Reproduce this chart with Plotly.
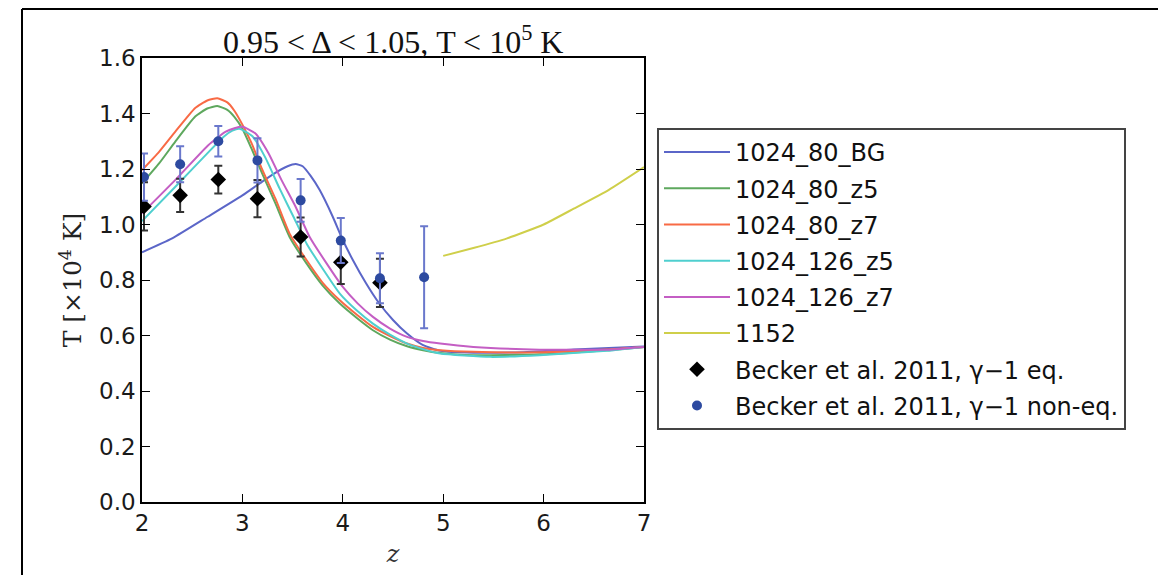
import plotly.graph_objects as go

# ---- data ----
z_bg = [2.0, 2.3, 2.65, 3.0, 3.3, 3.45, 3.53, 3.6, 3.68, 3.77, 3.9, 4.0, 4.1, 4.23, 4.36, 4.5, 4.64, 4.8, 4.97, 5.3, 5.8, 6.3, 7.0]
T_bg = [0.90, 0.95, 1.027, 1.105, 1.18, 1.21, 1.218, 1.21, 1.175, 1.124, 1.028, 0.944, 0.872, 0.789, 0.717, 0.656, 0.607, 0.565, 0.545, 0.538, 0.54, 0.55, 0.56]

z_80z5 = [2.0, 2.17, 2.33, 2.53, 2.65, 2.75, 2.85, 2.92, 3.0, 3.09, 3.19, 3.33, 3.47, 3.64, 3.8, 3.97, 4.14, 4.30, 4.47, 4.64, 4.8, 4.97, 5.3, 5.96, 6.63, 7.0]
T_80z5 = [1.148, 1.22, 1.298, 1.389, 1.418, 1.427, 1.413, 1.388, 1.345, 1.274, 1.19, 1.075, 0.955, 0.859, 0.78, 0.715, 0.663, 0.619, 0.585, 0.561, 0.547, 0.537, 0.529, 0.532, 0.547, 0.559]

z_80z7 = [2.0, 2.17, 2.33, 2.53, 2.65, 2.75, 2.85, 2.92, 3.0, 3.09, 3.19, 3.33, 3.47, 3.64, 3.8, 3.97, 4.14, 4.30, 4.47, 4.64, 4.8, 4.97, 5.3, 5.96, 6.63, 7.0]
T_80z7 = [1.196, 1.262, 1.334, 1.42, 1.447, 1.455, 1.44, 1.41, 1.36, 1.294, 1.204, 1.092, 0.967, 0.871, 0.79, 0.727, 0.675, 0.631, 0.598, 0.571, 0.555, 0.547, 0.541, 0.54, 0.55, 0.559]

z_126z5 = [2.0, 2.33, 2.66, 2.82, 2.9, 2.97, 3.1, 3.23, 3.37, 3.51, 3.64, 3.81, 3.97, 4.14, 4.30, 4.47, 4.64, 4.8, 4.97, 5.47, 5.96, 6.63, 7.0]
T_126z5 = [1.012, 1.135, 1.26, 1.318, 1.338, 1.345, 1.318, 1.24, 1.13, 1.027, 0.931, 0.835, 0.751, 0.69, 0.643, 0.603, 0.571, 0.551, 0.535, 0.523, 0.529, 0.545, 0.559]

z_126z7 = [2.0, 2.33, 2.66, 2.83, 2.92, 3.0, 3.13, 3.26, 3.39, 3.53, 3.67, 3.84, 4.0, 4.15, 4.30, 4.47, 4.64, 4.8, 4.97, 5.3, 5.96, 6.63, 7.0]
T_126z7 = [1.04, 1.16, 1.286, 1.334, 1.347, 1.352, 1.328, 1.257, 1.16, 1.064, 0.955, 0.859, 0.775, 0.715, 0.667, 0.625, 0.595, 0.58, 0.571, 0.559, 0.549, 0.549, 0.559]

z_1152 = [5.0, 5.3, 5.63, 6.0, 6.3, 6.65, 7.0]
T_1152 = [0.887, 0.915, 0.949, 1.0, 1.057, 1.125, 1.207]

z_obs = [2.02, 2.38, 2.76, 3.15, 3.58, 3.98, 4.37]
T_eq = [1.065, 1.105, 1.162, 1.093, 0.955, 0.864, 0.79]
err_eq = [0.087, 0.06, 0.05, 0.067, 0.07, 0.078, 0.087]

z_neq = [2.02, 2.38, 2.76, 3.15, 3.58, 3.98, 4.37, 4.81]
T_neq = [1.171, 1.217, 1.30, 1.231, 1.087, 0.942, 0.806, 0.81]
err_neq = [0.085, 0.065, 0.055, 0.08, 0.077, 0.081, 0.09, 0.184]

x_ticks = [2, 3, 4, 5, 6, 7]
y_ticks = [0.0, 0.2, 0.4, 0.6, 0.8, 1.0, 1.2, 1.4, 1.6]

# ---- figure ----
fig = go.Figure()
lines = [
    ("1024_80_BG", z_bg, T_bg, "#5b66c8"),
    ("1024_80_z5", z_80z5, T_80z5, "#5ea85e"),
    ("1024_80_z7", z_80z7, T_80z7, "#f86a45"),
    ("1024_126_z5", z_126z5, T_126z5, "#4fcfcf"),
    ("1024_126_z7", z_126z7, T_126z7, "#c45ec4"),
    ("1152", z_1152, T_1152, "#cfcf4a"),
]
for name, zz, tt, col in lines:
    fig.add_trace(go.Scatter(x=zz, y=tt, mode="lines", name=name, legendgroup=name,
                             line=dict(color=col, width=2, shape="spline", smoothing=0.5)))

fig.add_trace(go.Scatter(
    x=z_obs, y=T_eq, mode="markers", name="Becker et al. 2011, γ−1 eq.",
    legendgroup="eq",
    marker=dict(symbol="diamond", size=12, color="black"),
    error_y=dict(type="data", array=err_eq, visible=True, color="#333333", thickness=2, width=4)))
fig.add_trace(go.Scatter(
    x=z_neq, y=T_neq, mode="markers", name="Becker et al. 2011, γ−1 non-eq.",
    legendgroup="neq",
    marker=dict(symbol="circle", size=10, color="#2d4aa0"),
    error_y=dict(type="data", array=err_neq, visible=True, color="#6a78cc", thickness=2, width=4)))

# page body adds an 8px offset; target screen pixel coords are shifted by OFF
OFF = 8
W, H = 1166 - OFF, 575 - OFF
L, R, T, B = 142 - OFF, 644 - OFF, 58 - OFF, 502 - OFF
px = lambda x: (x - OFF - L) / (R - L)
py = lambda y: (B - (y - OFF)) / (B - T)

axis_common = dict(showline=True, linecolor="black", linewidth=1.5, mirror="allticks",
                   ticks="inside", ticklen=8, tickwidth=1.2, tickcolor="black",
                   showgrid=False, zeroline=False,
                   tickfont=dict(family="DejaVu Sans", size=23, color="#1a1a1a"))

fig.update_layout(
    width=W, height=H,
    margin=dict(l=L, r=W - R, t=T, b=H - B),
    paper_bgcolor="white", plot_bgcolor="white",
    showlegend=True,
    legend=dict(x=px(657), y=py(128), xanchor="left", yanchor="top",
                bgcolor="white", bordercolor="#444444", borderwidth=2,
                font=dict(family="DejaVu Sans", size=24, color="#111111"),
                tracegroupgap=2, itemwidth=66),
    xaxis=dict(range=[2, 7], tickvals=x_ticks, ticktext=[str(v) for v in x_ticks],
               title=dict(text="<i>z</i>", font=dict(family="DejaVu Serif", size=24, color="#333"), standoff=10),
               **axis_common),
    yaxis=dict(range=[0, 1.6], tickvals=y_ticks, ticktext=["%.1f" % v for v in y_ticks],
               title=dict(text="T [×10<sup>4</sup> K]", font=dict(family="DejaVu Serif", size=25, color="#222"), standoff=10),
               **axis_common),
    annotations=[dict(text="0.95 < Δ < 1.05, T < 10<sup>5</sup> K", xref="paper", yref="paper",
                      x=0.5, y=py(40), xanchor="center", yanchor="middle", showarrow=False,
                      font=dict(family="Liberation Serif", size=32, color="#111"))],
    shapes=[
        dict(type="line", xref="paper", yref="paper", x0=px(22), x1=px(1170), y0=py(9), y1=py(9),
             line=dict(color="black", width=2)),
        dict(type="line", xref="paper", yref="paper", x0=px(22), x1=px(22), y0=py(9), y1=py(580),
             line=dict(color="black", width=2)),
    ],
)

fig.write_html("out.html")
